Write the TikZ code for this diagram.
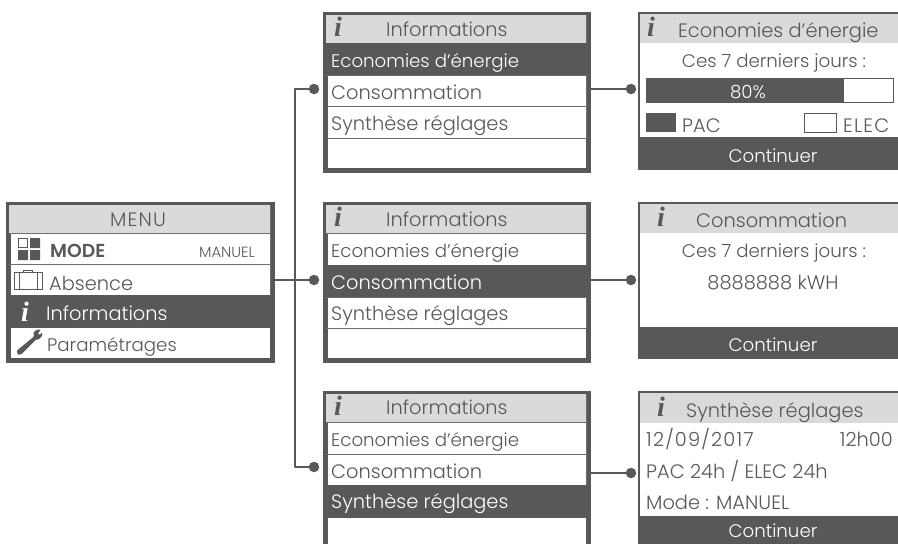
\documentclass[tikz,border=0pt]{standalone}
\usepackage{fontspec}
\setmainfont{Poppins}[UprightFont=* Light,BoldFont=* SemiBold]
\newfontfamily\iconfont{Liberation Serif}
\definecolor{ink}{HTML}{58585A}
\definecolor{head}{HTML}{D9DADB}
\definecolor{sep}{HTML}{6E6E70}
\tikzset{
  x=1pt,y=-1pt,
  panel/.style={draw=ink,line width=3pt,fill=white,inner sep=0pt,anchor=north west},
  cell/.style={inner sep=0pt,anchor=north west,draw=sep,line width=1pt},
  headcell/.style={cell,fill=head},
  darkcell/.style={inner sep=0pt,anchor=north west,fill=ink},
  label/.style={inner sep=0pt,font=\fontsize{18.2}{20}\selectfont,text=ink},
  big/.style={font=\fontsize{19.4}{22}\selectfont},
  spaced/.style={font=\fontsize{19.4}{22}\selectfont\addfontfeature{LetterSpace=6}},
  lab/.style={label,anchor=base west},
  labc/.style={label,anchor=base},
  labr/.style={label,anchor=base east},
  white label/.style={text=white},
  ico/.style={inner sep=0pt,anchor=base,text=ink,font=\fontsize{28}{28}\iconfont\bfseries\itshape},
  dot/.style={circle,fill=ink,inner sep=0pt,minimum size=10.5pt},
  wire/.style={draw=ink,line width=2.8pt},
}
\newcommand{\boxcell}[7]{% name, style, x1, y1, x2, y2
  \node[#2,minimum width=#5pt-#3pt,minimum height=#6pt-#4pt] (#1) at (#3,#4) {};}
\begin{document}
\begin{tikzpicture}
\useasboundingbox (0,0) rectangle (898,544);
\fill[white] (0,0) rectangle (898,544);
% ---- wires drawn under the panels
\node[dot] (d0) at (314,280) {};
\node[dot] (d1) at (314,89) {};
\node[dot] (d3) at (314,467) {};
\node[dot] (e1) at (631,89) {};
\node[dot] (e2) at (631,280) {};
\node[dot] (e3) at (631,473) {};
\coordinate (tt) at (295,89);
\coordinate (tb) at (295,467);
\coordinate (src) at (271,280);
\coordinate (a1) at (587,89);
\coordinate (a2) at (587,280);
\coordinate (a3) at (587,473);
\draw[wire] (src) -- (d0);
\draw[wire,line join=round] (d1) -- (tt) -- (tb) -- (d3);
\draw[wire] (a1) -- (e1);
\draw[wire] (a2) -- (e2);
\draw[wire] (a3) -- (e3);
% ---- MENU
\boxcell{m}{panel}{7.5}{203.5}{270}{358}{}
\boxcell{m0}{headcell}{8}{204}{269.5}{233}{}
\boxcell{m1}{cell}{8}{233}{269.5}{264}{}
\boxcell{m2}{cell}{8}{264}{269.5}{295}{}
\boxcell{m3}{darkcell}{7}{295}{270}{328}{}
\draw[draw=ink,line width=3pt] (m.north west) rectangle (m.south east);
\node[labc,spaced] (mt0) at (138,226) {MENU};
\fill[ink] (30,238) rectangle (40,248) (18,250) rectangle (28,260) (30,250) rectangle (40,260);
\draw[ink,line width=.7pt] (18.5,238.5) rectangle (27.5,247.5);
\node[lab,font=\fontsize{18.8}{20}\selectfont\bfseries] (mt1) at (50,257) {MODE};
\node[labr,font=\fontsize{14.8}{16}\selectfont] (mt1b) at (255,257) {MANUEL};
\draw[ink,line width=.8pt] (14.5,272.5) rectangle (42,289) (19,272.5) -- (19,289) (37,272.5) -- (37,289) (23,272.5) -- (23,270.5) -- (32,270.5) -- (32,272.5);
\node[lab,big] (mt2) at (49,290) {Absence};
\node[ico,text=white] (mi) at (25,321) {i};
\node[lab,big,white label] (mt3) at (46,320) {Informations};
\fill[ink,rounded corners=.8pt] (17,350.5) -- (34,336.5) -- (33.5,332.5) -- (37,329.5) -- (41,329.5) -- (38,333) -- (39.5,335) -- (42.5,332.5) -- (42,336) -- (38.5,339.5) -- (36,339.5) -- (21,354.5) -- (17.5,354.5) -- cycle;
\node[lab] (mt4) at (47,351) {Paramétrages};
% ---- INFORMATIONS 1
\boxcell{a}{panel}{324.5}{13.5}{586}{168}{}
\boxcell{a0}{headcell}{325}{14}{585.5}{43}{}
\boxcell{ad}{darkcell}{324}{43}{587}{75}{}
\boxcell{a2c}{cell}{325}{75}{585.5}{106}{}
\boxcell{a3c}{cell}{325}{106}{585.5}{137.5}{}
\draw[draw=ink,line width=3pt] (a.north west) rectangle (a.south east);
\node[ico] (ai) at (338,36) {i};
\node[lab,big] (at0) at (386,36) {Informations};
\node[lab,white label] (at1) at (331,67) {Economies d’énergie};
\node[lab,big] (at2) at (331,99) {Consommation};
\node[lab,big] (at3) at (331,130) {Synthèse réglages};
% ---- INFORMATIONS 2
\boxcell{b}{panel}{324.5}{203.5}{586}{358}{}
\boxcell{b0}{headcell}{325}{204}{585.5}{233}{}
\boxcell{b1c}{cell}{325}{233}{585.5}{265}{}
\boxcell{bd}{darkcell}{324}{265}{587}{297}{}
\boxcell{b3c}{cell}{325}{297}{585.5}{327.5}{}
\draw[draw=ink,line width=3pt] (b.north west) rectangle (b.south east);
\node[ico] (bi) at (338,226) {i};
\node[lab,big] (bt0) at (386,226) {Informations};
\node[lab] (bt1) at (331,257) {Economies d’énergie};
\node[lab,big,white label] (bt2) at (331,289) {Consommation};
\node[lab,big] (bt3) at (331,320) {Synthèse réglages};
% ---- INFORMATIONS 3
\boxcell{c}{panel}{324.5}{392.5}{586}{548}{}
\boxcell{c0}{headcell}{325}{393}{585.5}{422}{}
\boxcell{c1c}{cell}{325}{422}{585.5}{454}{}
\boxcell{c2c}{cell}{325}{454}{585.5}{485}{}
\boxcell{cd}{darkcell}{324}{485}{587}{518}{}
\draw[draw=ink,line width=3pt] (c.north west) rectangle (c.south east);
\node[ico] (ci) at (338,415) {i};
\node[lab,big] (ct0) at (386,414) {Informations};
\node[lab] (ct1) at (331,446) {Economies d’énergie};
\node[lab,big] (ct2) at (331,478) {Consommation};
\node[lab,big,white label] (ct3) at (331,508) {Synthèse réglages};
% ---- SCREEN 1
\fill[white] (638,12) rectangle (898,170);
\fill[head] (638,13) rectangle (898,43);
\draw[ink,line width=2pt] (898,13) -- (639,13) -- (639,140);
\boxcell{p1f}{darkcell}{638}{137}{898}{170}{}
\node[ico] (pi) at (651,36) {i};
\node[lab,big] (pt0) at (678,37) {Economies d’énergie};
\node[labc] (pt1) at (774,67) {Ces 7 derniers jours :};
\draw[ink,line width=.8pt,fill=white] (646,78.5) rectangle (893,102.5);
\boxcell{bar}{darkcell}{646}{78}{844}{103}{}
\node[labc,white label] (pt2) at (748,98) {80\%};
\boxcell{sw1}{darkcell}{646}{113}{676}{132}{}
\node[lab,big] (pt3) at (682,132) {PAC};
\draw[ink,line width=.8pt] (804.5,113.5) rectangle (836,132);
\node[lab,spaced] (pt4) at (843,132) {ELEC};
\node[labc,white label] (pt5) at (773,162) {Continuer};
% ---- SCREEN 2
\fill[head] (638,203) rectangle (898,233);
\draw[ink,line width=2pt] (898,203) -- (639,203) -- (639,330);
\boxcell{q1f}{darkcell}{638}{327}{898}{359}{}
\node[ico] (qi) at (661,226) {i};
\node[lab,big] (qt0) at (696,227) {Consommation};
\node[labc] (qt1) at (774,257) {Ces 7 derniers jours :};
\node[labc,big] (qt2) at (773,289) {8888888 kWH};
\node[labc,white label] (qt3) at (773,351) {Continuer};
% ---- SCREEN 3
\fill[head] (638,392) rectangle (898,423);
\draw[ink,line width=2pt] (898,392) -- (639,392) -- (639,520);
\boxcell{r1f}{darkcell}{638}{516}{898}{544}{}
\node[ico] (ri) at (661,416) {i};
\node[lab,big] (rt0) at (686,417) {Synthèse réglages};
\node[lab,spaced] (rt1) at (646,446) {12/09/2017};
\node[labr,big] (rt1b) at (893,446) {12h00};
\node[lab,big] (rt2) at (646,478) {PAC 24h / ELEC 24h};
\node[lab,big] (rt3) at (646,509) {Mode : MANUEL};
\node[labc,white label] (rt4) at (773,537) {Continuer};
\end{tikzpicture}
\end{document}
